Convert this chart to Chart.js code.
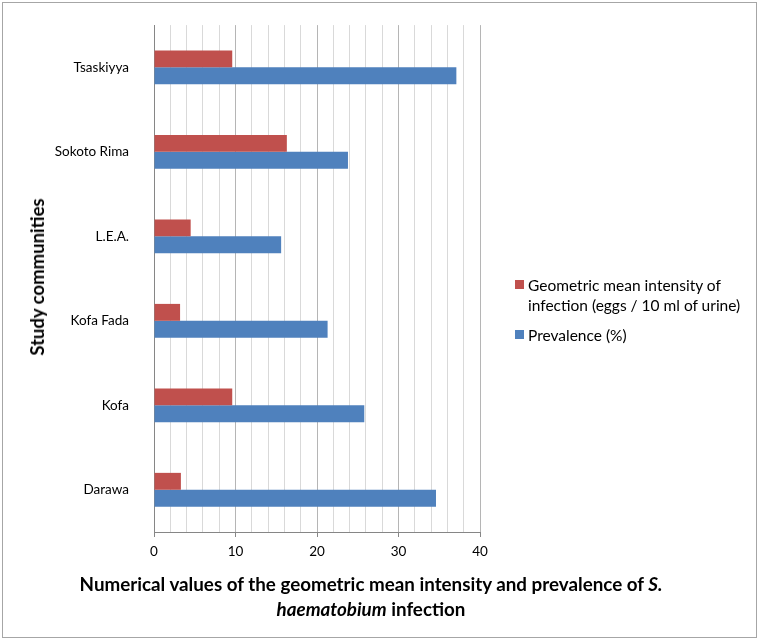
<!DOCTYPE html>
<html>
<head>
<meta charset="utf-8">
<script src="https://cdn.jsdelivr.net/npm/chart.js@4.4.0/dist/chart.umd.min.js"></script>
<style>
    body { margin: 0; background: #fff; font-family: Lato, sans-serif; }
    #wrap { position: relative; width: 760px; height: 639px; overflow: hidden; }
    #frame { position: absolute; left: 2px; top: 2px; width: 753px; height: 634px; border: 1px solid #a6a6a6; }
    #chart { position: absolute; left: 0; top: 0; }
    .ytitle { position: absolute; left: 37px; top: 277px; transform: translate(-50%, -50%) rotate(-90deg); font-weight: bold; font-size: 18.5px; white-space: nowrap; }
    .xtitle { position: absolute; left: 371px; top: 571px; transform: translateX(-50%); font-weight: bold; font-size: 18.8px; text-align: center; line-height: 25px; white-space: nowrap; }
    .legend { position: absolute; left: 515px; top: 275px; font-size: 15.5px; line-height: 20px; }
    .legend .row { position: relative; padding-left: 13px; margin-bottom: 10px; }
    .legend .sw { position: absolute; left: 0; top: 5px; width: 9px; height: 9px; }
</style>
</head>
<body>
<div id="wrap">
    <div id="frame"></div>
    <canvas id="chart" width="760" height="639"></canvas>
    <div class="ytitle">Study communities</div>
    <div class="xtitle">Numerical values of the geometric mean intensity and prevalence of <i>S.</i><br><i>haematobium</i> infection</div>
    <div class="legend" id="legend"></div>
</div>
<script>
document.addEventListener('DOMContentLoaded', () => {
    const communities = ['Tsaskiyya', 'Sokoto Rima', 'L.E.A.', 'Kofa Fada', 'Kofa', 'Darawa'];
    const intensity = [9.6, 16.3, 4.5, 3.2, 9.6, 3.3];
    const prevalence = [37.1, 23.8, 15.6, 21.3, 25.8, 34.6];

    const seriesNames = ['Geometric mean intensity of<br>infection (eggs / 10 ml of urine)', 'Prevalence (%)'];
    const seriesColors = ['#C0504D', '#4F81BD'];

    // legend built by hand so the first entry can wrap like in the original
    const legendEl = document.getElementById('legend');
    seriesNames.forEach((name, i) => {
        const row = document.createElement('div');
        row.className = 'row';
        row.innerHTML = `<span class="sw" style="background:${seriesColors[i]}"></span>${name}`;
        legendEl.appendChild(row);
    });

    const tickFont = { family: 'Lato', size: 13.5 };

    new Chart(document.getElementById('chart'), {
        type: 'bar',
        data: {
            labels: communities,
            datasets: [
                { label: 'Geometric mean intensity of infection (eggs / 10 ml of urine)', data: intensity, backgroundColor: seriesColors[0] },
                { label: 'Prevalence (%)', data: prevalence, backgroundColor: seriesColors[1] }
            ]
        },
        options: {
            indexAxis: 'y',
            responsive: false,
            animation: false,
            layout: { padding: { top: 20, right: 280, left: 0, bottom: 0 } },
            datasets: { bar: { barPercentage: 1, categoryPercentage: 0.4 } },
            plugins: { legend: { display: false }, tooltip: { enabled: false } },
            scales: {
                x: {
                    min: 0,
                    max: 40,
                    afterFit: s => { s.height = 107; },
                    border: { color: '#868686' },
                    grid: {
                        color: c => (c.tick && c.tick.value % 10 === 0) ? '#b5b5b5' : '#d9d9d9',
                        tickColor: c => (c.tick && c.tick.value % 10 === 0) ? '#868686' : 'rgba(0,0,0,0)',
                        tickLength: 5
                    },
                    ticks: {
                        stepSize: 2,
                        autoSkip: false,
                        maxRotation: 0,
                        padding: 7,
                        color: '#000',
                        font: tickFont,
                        callback: v => v % 10 === 0 ? v : ''
                    }
                },
                y: {
                    afterFit: s => { s.width = 154; },
                    border: { color: '#868686' },
                    grid: { display: false },
                    ticks: { padding: 17, color: '#000', font: tickFont }
                }
            }
        }
    });
});
</script>
</body>
</html>
